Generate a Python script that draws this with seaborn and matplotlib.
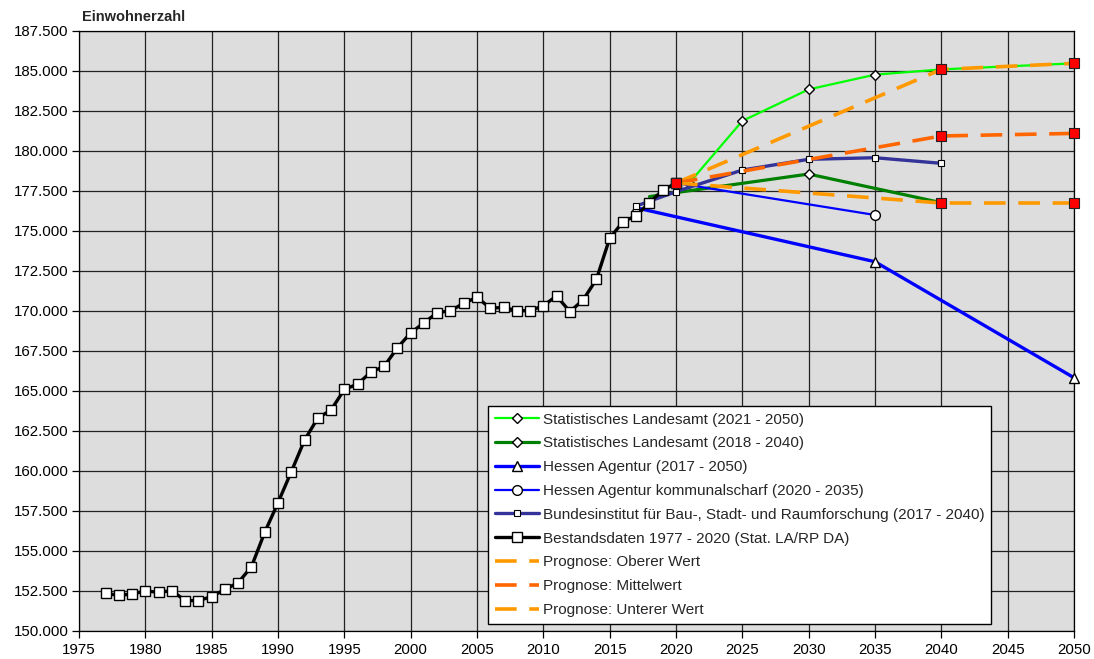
import matplotlib
matplotlib.use("Agg")
import matplotlib.pyplot as plt
from matplotlib.ticker import FuncFormatter, MultipleLocator
import seaborn as sns

# ---- data -------------------------------------------------------------
hist_years = list(range(1977, 2021))
hist_values = [
    152350, 152230, 152310, 152500, 152420, 152520, 151900, 151900, 152150, 152600,
    153020, 154020, 156170, 158020, 159950, 161930, 163310, 163810, 165100, 165430,
    166180, 166540, 167700, 168630, 169260, 169890, 170020, 170480, 170860, 170170,
    170230, 170020, 170020, 170330, 170940, 169960, 170690, 171980, 174540, 175580,
    175960, 176770, 177540, 178000,
]

sla21_years = [2021, 2025, 2030, 2035, 2040, 2050]
sla21_values = [178000, 181880, 183850, 184770, 185100, 185480]

sla18_years = [2018, 2020, 2030, 2040]
sla18_values = [177150, 177400, 178560, 176770]

ha_years = [2017, 2035, 2050]
ha_values = [176450, 173080, 165830]

hak_years = [2020, 2035]
hak_values = [178000, 176000]

bbsr_years = [2017, 2020, 2025, 2030, 2035, 2040]
bbsr_values = [176560, 177460, 178810, 179480, 179580, 179230]

prog_years = [2020, 2040, 2050]
prog_upper = [178000, 185100, 185480]
prog_mid = [178000, 180940, 181100]
prog_lower = [178000, 176750, 176750]

labels = [
    "Statistisches Landesamt (2021 - 2050)",
    "Statistisches Landesamt (2018 - 2040)",
    "Hessen Agentur (2017 - 2050)",
    "Hessen Agentur kommunalscharf (2020 - 2035)",
    "Bundesinstitut für Bau-, Stadt- und Raumforschung (2017 - 2040)",
    "Bestandsdaten 1977 - 2020 (Stat. LA/RP DA)",
    "Prognose: Oberer Wert",
    "Prognose: Mittelwert",
    "Prognose: Unterer Wert",
]

# ---- style ------------------------------------------------------------
sns.set_theme(style="ticks")
plt.rcParams["font.family"] = ["Liberation Sans", "DejaVu Sans"]
FS = 10.8

fig = plt.figure(figsize=(10.94, 6.59), dpi=100)
ax = fig.add_axes([79 / 1094, 1 - 631 / 659, 995 / 1094, 600 / 659])
ax.set_facecolor("#DDDDDD")

def series(x, y, label, color, lw, marker, ms, z, mew=1.0, markevery=None):
    sns.lineplot(x=x, y=y, ax=ax, label=label, color=color, linewidth=lw,
                 marker=marker, markersize=ms, markerfacecolor="white",
                 markeredgecolor="black", markeredgewidth=mew, zorder=z,
                 markevery=markevery, clip_on=False)

series(sla21_years, sla21_values, labels[0], "#00FF00", 1.6, "D", 5.5, 4)
series(sla18_years, sla18_values, labels[1], "#008000", 2.3, "D", 4.8, 4,
       markevery=[2, 3])
series(ha_years, ha_values, labels[2], "#0000FF", 2.4, "^", 7, 4)
series(hak_years, hak_values, labels[3], "#0000FF", 1.6, "o", 7, 4)
series(bbsr_years, bbsr_values, labels[4], "#333399", 2.4, "s", 3.8, 4, mew=0.8)
series(hist_years, hist_values, labels[5], "black", 2.4, "s", 6.6, 5)

dash = (0, (6, 3.5))
for vals, lab, col in [(prog_upper, labels[6], "#FF9900"),
                       (prog_mid, labels[7], "#FF6600"),
                       (prog_lower, labels[8], "#FF9900")]:
    sns.lineplot(x=prog_years, y=vals, ax=ax, label=lab, color=col,
                 linewidth=2.6, linestyle=dash, zorder=6)

# red markers at the forecast anchor points
for vals in (prog_upper, prog_mid, prog_lower):
    sns.scatterplot(x=prog_years, y=vals, ax=ax, marker="s", s=52,
                    color="#FF0000", edgecolor="#222222", linewidth=0.8,
                    zorder=8, legend=False, clip_on=False)

# ---- axes -------------------------------------------------------------
ax.set_xlim(1975, 2050)
ax.set_ylim(150000, 187500)
ax.xaxis.set_major_locator(MultipleLocator(5))
ax.yaxis.set_major_locator(MultipleLocator(2500))
ax.yaxis.set_major_formatter(
    FuncFormatter(lambda v, p: f"{v:,.0f}".replace(",", ".")))
ax.grid(True, color="#222222", linewidth=0.9)
ax.set_axisbelow(True)
for s in ax.spines.values():
    s.set_color("black")
    s.set_linewidth(0.9)
ax.tick_params(axis="both", labelsize=FS, colors="black", length=5,
               width=0.9, direction="out")
ax.tick_params(axis="y", pad=2.5)
ax.set_xlabel("")
ax.set_ylabel("")

ax.text(0.003, 1.012, "Einwohnerzahl", transform=ax.transAxes,
        fontsize=10.5, fontweight="bold", ha="left", va="bottom")

leg = ax.legend(loc="lower left", bbox_to_anchor=(0.411, 0.012),
                fontsize=11, frameon=True, fancybox=False,
                framealpha=1, edgecolor="black", facecolor="white",
                handlelength=2.9, handletextpad=0.25, labelspacing=0.64,
                borderpad=0.45, borderaxespad=0)
leg.get_frame().set_linewidth(1.0)
leg.set_zorder(10)

fig.savefig("out.png", dpi=100)
